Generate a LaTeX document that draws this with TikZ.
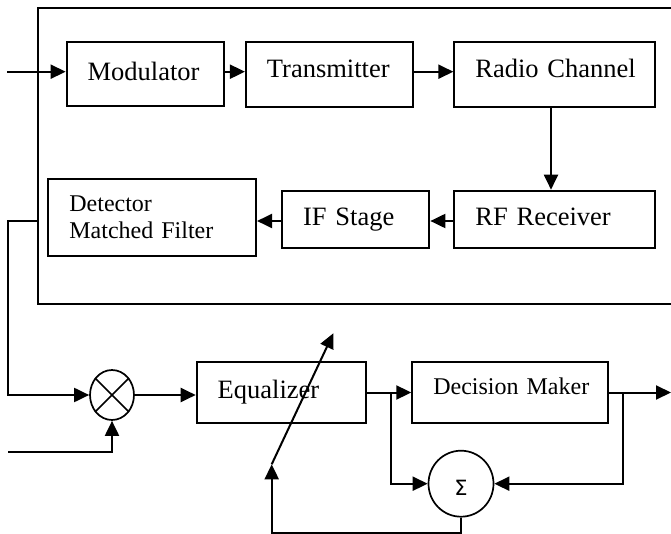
\documentclass[tikz,border=0pt]{standalone}
\usepackage{fontspec}
\setmainfont{Liberation Serif}
\newfontfamily\sigfont{DejaVu Sans}
\usetikzlibrary{arrows.meta,shapes.geometric,calc}
\tikzset{
  blk/.style={draw, line width=2pt, rectangle, inner xsep=21pt, inner ysep=0pt, align=left, font=\fontsize{26.5}{30}\selectfont},
  smallblk/.style={blk, font=\fontsize{24}{27.3}\selectfont},
  arr/.style={-{Triangle[length=15pt,width=14pt]}, line width=2pt},
  ln/.style={line width=2pt},
  frame/.style={line width=1.8pt},
  junc/.style={draw, ellipse, line width=1.7pt, inner sep=0pt},
}
\begin{document}
\begin{tikzpicture}[x=1pt,y=-1pt]
\useasboundingbox (0,0) rectangle (671,534);
% outer frame (open at right)
\draw[frame] (671,8.3) -- (38.3,8.3) -- (38.3,304) -- (671,304);
\coordinate (fout) at (38.3,220.7);
% top row
\node[blk, text width=115.3pt, text height=39pt, text depth=25.3pt] (mod) at (145.3,73.9) {\mbox{Modulator}};
\node[blk, text width=124.7pt, text height=35.6pt, text depth=29.7pt] (tx) at (329.3,74.3) {\mbox{Transmitter}};
\node[blk, text width=158.7pt, text height=35.3pt, text depth=29.7pt] (rc) at (554.7,74.5) {\mbox{Radio Channel}};
% second row
\node[smallblk, text width=165.7pt, text height=32.7pt, text depth=44.3pt] (det) at (152.2,217.5) {\parbox[t]{165.7pt}{\raggedright Detector\\Matched Filter}};
\node[blk, text width=105.3pt, text height=35pt, text depth=22pt] (if) at (355.7,219.2) {\mbox{IF Stage}};
\node[blk, text width=158.7pt, text height=35pt, text depth=22pt] (rf) at (554.7,219.2) {\mbox{RF Receiver}};
% lower chain
\node[junc, minimum width=44pt, minimum height=50pt] (mul) at (112,395) {};
\draw[line width=1.7pt] (mul.45) -- (mul.225) (mul.135) -- (mul.315);
\node[blk, text width=127pt, text height=36pt, text depth=24.4pt] (eq) at (281.2,392.5) {\mbox{Equalizer}};
\node[smallblk, text width=153.4pt, text height=32pt, text depth=28.4pt] (dec) at (510,392.5) {\mbox{Decision Maker}};
\node[junc, minimum width=65pt, minimum height=66pt, font=\sigfont\fontsize{21}{22}\selectfont, text height=24pt, text depth=0pt] (sig) at (461,483.7) {Σ};
% free ends
\coordinate (inA) at (7,71.7);
\coordinate (inB) at (8.3,451.7);
\coordinate (out) at (671,392.5);
\coordinate (fbtip) at (271.7,464.3);
\coordinate (adjtip) at (333.3,333.3);
\coordinate (b1) at (390.7,392.5);
\coordinate (b2) at (623.3,392.5);
% connectors top
\draw[arr] (inA) -- (inA -| mod.west);
\draw[arr] (mod.east |- 0,71.7) -- (tx.west |- 0,71.7);
\draw[arr] (tx.east |- 0,71.7) -- (rc.west |- 0,71.7);
\draw[arr] ([xshift=-3.7pt]rc.south) -- ([xshift=-3.7pt]rf.north);
\draw[arr] (rf.west |- 0,221) -- (if.east |- 0,221);
\draw[arr] (if.west |- 0,221) -- (det.east |- 0,221);
% detector output to multiplier
\draw[arr] (fout) -- (8.3,220.7) |- (mul.west);
\draw[arr] (inB) -| (mul.south);
\draw[arr] (mul.east) -- (mul.east -| eq.west);
\draw[arr] (eq.east) -- (dec.west);
\draw[arr] (dec.east) -- (out);
\draw[arr] (b1) |- (sig.west);
\draw[arr] (b2) |- (sig.east);
\draw[arr] (sig.south) -- ++(0,15) -| (fbtip);
\draw[arr] (fbtip) -- (adjtip);
\end{tikzpicture}
\end{document}
